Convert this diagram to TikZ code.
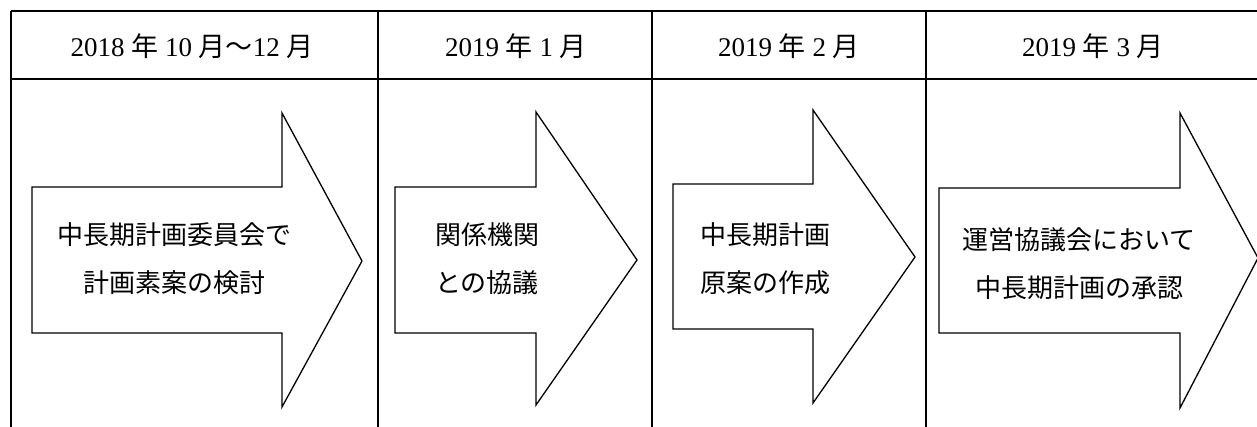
\documentclass[tikz,border=0pt]{standalone}
\usepackage{fontspec}
\setmainfont{Liberation Serif}
\newfontfamily\jp{Noto Sans CJK JP}
\tikzset{
  grid/.style={line width=1.8pt, black},
  bigarrow/.style={line width=1.3pt, black, line join=miter, fill=white},
  headtext/.style={font=\fontsize{27}{30}\selectfont, inner sep=0pt},
  bodytext/.style={font=\jp\fontsize{26}{48}\selectfont, inner sep=0pt}
}
\begin{document}
\begin{tikzpicture}[x=1pt,y=-1pt]
\useasboundingbox (0,0) rectangle (1257,427);
% table
\draw[grid] (11,11) -- (1262,11);
\draw[grid] (11,79) -- (1262,79);
\draw[grid] (11,11) -- (11,430);
\draw[grid] (378,11) -- (378,430);
\draw[grid] (652,11) -- (652,430);
\draw[grid] (926,11) -- (926,430);
% headers
\node[headtext] (h1) at (192,46) {2018 {\jp 年} 10 {\jp 月〜}12 {\jp 月}};
\node[headtext] (h2) at (516,46) {2019 {\jp 年} 1 {\jp 月}};
\node[headtext] (h3) at (789,46) {2019 {\jp 年} 2 {\jp 月}};
\node[headtext] (h4) at (1093,46) {2019 {\jp 年} 3 {\jp 月}};
% arrows
\draw[bigarrow] (32,187) -- (282,187) -- (282,113) -- (362,261) -- (282,407) -- (282,333) -- (32,333) -- cycle;
\draw[bigarrow] (395,187) -- (536,187) -- (536,112) -- (637,260) -- (536,405) -- (536,333) -- (395,333) -- cycle;
\draw[bigarrow] (673,184) -- (813,184) -- (813,110) -- (915,257) -- (813,403) -- (813,329) -- (673,329) -- cycle;
\draw[bigarrow] (939,188) -- (1180,188) -- (1180,113) -- (1258,258) -- (1180,408) -- (1180,333) -- (939,333) -- cycle;
% texts
\node[bodytext, align=center] (t1) at (174,259) {中長期計画委員会で\\計画素案の検討};
\node[bodytext, align=left, anchor=west] (t2) at (435,259) {関係機関\\との協議};
\node[bodytext, align=left, anchor=west] (t3) at (700,259) {中長期計画\\原案の作成};
\node[bodytext, align=center] (t4) at (1079,264) {運営協議会において\\中長期計画の承認};
\end{tikzpicture}
\end{document}
